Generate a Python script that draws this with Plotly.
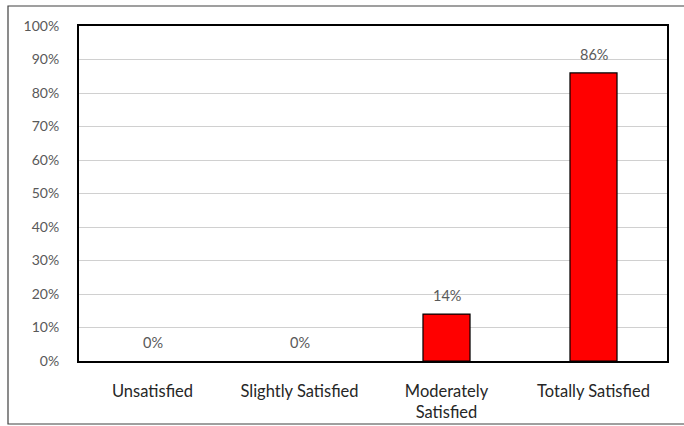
import plotly.graph_objects as go

categories = ["Unsatisfied", "Slightly Satisfied", "Moderately<br>Satisfied", "Totally Satisfied"]
values = [0, 0, 14, 86]
labels = ["0%", "0%", "14%", "86%"]
y_ticks = list(range(0, 101, 10))

FONT = "Lato, Open Sans, sans-serif"
TXT = "#595959"

fig = go.Figure()
fig.add_trace(go.Bar(
    x=categories, y=values,
    marker=dict(color="#FF0000",
                line=dict(color="black", width=[1.2 if v > 0 else 0 for v in values])),
    width=0.32,
    hoverinfo="skip",
))

for c, v, t in zip(categories, values, labels):
    fig.add_annotation(x=c, y=v, text=t, showarrow=False, yanchor="bottom",
                       yshift=8, font=dict(family=FONT, size=14.5, color=TXT))

fig.update_layout(
    width=684, height=426,
    margin=dict(l=79, r=17, t=26, b=65),
    paper_bgcolor="white", plot_bgcolor="white",
    showlegend=False,
    font=dict(family=FONT, size=14, color=TXT),
    xaxis=dict(
        automargin=False,
        showline=True, linecolor="black", linewidth=2, mirror=True,
        showgrid=False, ticks="", ticklabelstandoff=14,
        tickfont=dict(family=FONT, size=16.5, color="#262626"),
    ),
    yaxis=dict(
        automargin=False,
        range=[0, 100], tickvals=y_ticks,
        ticktext=[f"{v}%" for v in y_ticks],
        showline=True, linecolor="black", linewidth=2, mirror=True,
        showgrid=True, gridcolor="#d0d0d0", gridwidth=1,
        zeroline=False, ticks="", ticklabelstandoff=15,
        tickfont=dict(family=FONT, size=14, color=TXT),
    ),
    shapes=[dict(type="rect", xref="paper", yref="paper",
                 x0=-71 / 588, x1=1 + 30 / 588, y0=-63 / 335, y1=1 + 20 / 335,
                 line=dict(color="#404040", width=1.2), layer="below")],
)

fig.write_html("out.html")
